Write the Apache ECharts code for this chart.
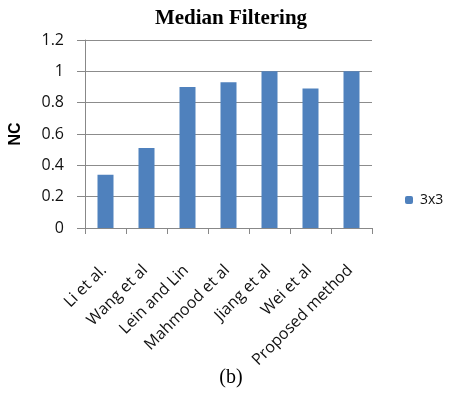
<!DOCTYPE html>
<html><head><meta charset="utf-8">
<script src="https://cdn.jsdelivr.net/npm/echarts@6/dist/echarts.min.js"></script>
<style>html,body{margin:0;padding:0;background:#fff}#c{width:449px;height:396px}</style>
</head><body><div id="c"></div>
<script>
const categories = ["Li et al.", "Wang et al", "Lein and Lin", "Mahmood et al", "Jiang et al", "Wei et al", "Proposed method"];
const values3x3 = [0.34, 0.51, 0.90, 0.93, 1.0, 0.89, 1.0];
const seriesName = "3x3";
const yTicks = [0, 0.2, 0.4, 0.6, 0.8, 1, 1.2];

const chart = echarts.init(document.getElementById('c'), null, {renderer: 'canvas'});
chart.setOption({
  animation: false,
  title: [{
    text: "Median Filtering", left: 226, top: 3, textAlign: 'center',
    textStyle: {fontFamily: "Liberation Serif", fontWeight: 'bold', fontSize: 21, color: '#000'}
  }, {
    text: "(b)", left: 226, top: 363, textAlign: 'center',
    textStyle: {fontFamily: "Liberation Serif", fontWeight: 'normal', fontSize: 20, color: '#000'}
  }],
  legend: {
    data: [seriesName], left: 405, top: 193, padding: 0, itemWidth: 8, itemHeight: 8, itemGap: 4,
    textStyle: {fontFamily: "Open Sans", fontSize: 14, color: '#111', padding: [0, 0, 0, 2]}
  },
  grid: {left: 85, right: 77, top: 40, bottom: 168, containLabel: false},
  xAxis: {
    type: 'category', data: categories,
    axisLine: {lineStyle: {color: '#888', width: 1}},
    axisTick: {show: true, length: 6, alignWithLabel: false, lineStyle: {color: '#888'}},
    axisLabel: {rotate: 45, interval: 0, margin: 27, align: 'right', verticalAlign: 'top',
      padding: [0, 10, 0, 0],
      fontFamily: "Open Sans", fontSize: 16, color: '#111'}
  },
  yAxis: {
    type: 'value', min: 0, max: 1.2, interval: 0.2,
    name: "NC", nameLocation: 'middle', nameGap: 61, nameRotate: 90,
    nameTextStyle: {fontFamily: "Liberation Sans", fontWeight: 'bold', fontSize: 16, color: '#000'},
    axisLine: {show: true, lineStyle: {color: '#888'}},
    axisTick: {show: true, length: 8, lineStyle: {color: '#888'}},
    splitLine: {lineStyle: {color: '#8c8c8c', width: 1}},
    axisLabel: {
      margin: 21, fontFamily: "Open Sans", fontSize: 16, color: '#111',
      formatter: v => { const t = yTicks.find(x => Math.abs(x - v) < 1e-9); return t === undefined ? '' : String(t); }
    }
  },
  series: [{
    name: seriesName, type: 'bar', data: values3x3, barWidth: 16,
    itemStyle: {color: '#4f81bd'}
  }]
});
</script></body></html>
